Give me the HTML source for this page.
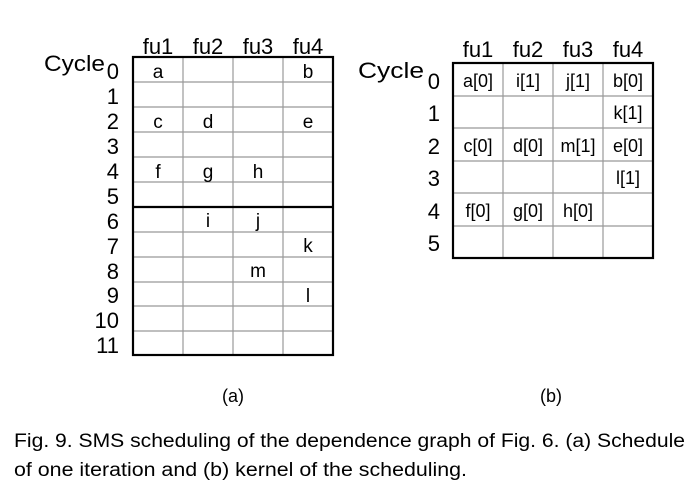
<!DOCTYPE html>
<html><head><meta charset="utf-8"><style>
html,body{margin:0;padding:0;background:#fff;}
svg{display:block;font-family:"Liberation Sans",Arial,sans-serif;}
</style></head><body>
<svg width="700" height="499" viewBox="0 0 700 499" xmlns="http://www.w3.org/2000/svg">
<g stroke="#999" stroke-width="1.2">
<line x1="183" y1="57" x2="183" y2="355"/><line x1="233" y1="57" x2="233" y2="355"/><line x1="283" y1="57" x2="283" y2="355"/>
<line x1="133" y1="82" x2="333" y2="82"/><line x1="133" y1="107" x2="333" y2="107"/><line x1="133" y1="132" x2="333" y2="132"/>
<line x1="133" y1="157" x2="333" y2="157"/><line x1="133" y1="182" x2="333" y2="182"/>
<line x1="133" y1="232" x2="333" y2="232"/><line x1="133" y1="257" x2="333" y2="257"/><line x1="133" y1="282" x2="333" y2="282"/>
<line x1="133" y1="306" x2="333" y2="306"/><line x1="133" y1="331" x2="333" y2="331"/>
<line x1="503" y1="63" x2="503" y2="258"/><line x1="553" y1="63" x2="553" y2="258"/><line x1="603" y1="63" x2="603" y2="258"/>
<line x1="453" y1="96" x2="653" y2="96"/><line x1="453" y1="128" x2="653" y2="128"/><line x1="453" y1="161" x2="653" y2="161"/>
<line x1="453" y1="193" x2="653" y2="193"/><line x1="453" y1="226" x2="653" y2="226"/>
</g>
<g stroke="#000" stroke-width="2.2" fill="none">
<rect x="133" y="57" width="200" height="298"/>
<line x1="133" y1="207" x2="333" y2="207"/>
<rect x="453" y="63" width="200" height="195"/>
</g>
<g font-size="22" text-anchor="middle">
<text x="158" y="54">fu1</text><text x="208" y="54">fu2</text><text x="258" y="54">fu3</text><text x="308" y="54">fu4</text>
<text x="478" y="57">fu1</text><text x="528" y="57">fu2</text><text x="578" y="57">fu3</text><text x="628" y="57">fu4</text>
</g>
<g font-size="22">
<text x="44" y="71" textLength="61" lengthAdjust="spacingAndGlyphs">Cycle</text>
<text x="358" y="78" textLength="66" lengthAdjust="spacingAndGlyphs">Cycle</text>
</g>
<g font-size="22" text-anchor="end">
<text x="119" y="79">0</text><text x="119" y="104">1</text><text x="119" y="129">2</text><text x="119" y="154">3</text>
<text x="119" y="179">4</text><text x="119" y="204">5</text><text x="119" y="229">6</text><text x="119" y="254">7</text>
<text x="119" y="279">8</text><text x="119" y="303">9</text><text x="119" y="328">10</text><text x="119" y="353">11</text>
<text x="440" y="89">0</text><text x="440" y="121">1</text><text x="440" y="154">2</text><text x="440" y="186">3</text>
<text x="440" y="219">4</text><text x="440" y="251">5</text>
</g>
<g font-size="19" text-anchor="middle">
<text x="158" y="78">a</text><text x="308" y="78">b</text>
<text x="158" y="128">c</text><text x="208" y="128">d</text><text x="308" y="128">e</text>
<text x="158" y="178">f</text><text x="208" y="178">g</text><text x="258" y="178">h</text>
<text x="208" y="227">i</text><text x="258" y="227">j</text>
<text x="308" y="252">k</text><text x="258" y="277">m</text><text x="308" y="302">l</text>
</g>
<g font-size="18" text-anchor="middle">
<text x="478" y="87">a[0]</text><text x="528" y="87">i[1]</text><text x="578" y="87">j[1]</text><text x="628" y="87">b[0]</text>
<text x="628" y="119">k[1]</text>
<text x="478" y="152">c[0]</text><text x="528" y="152">d[0]</text><text x="578" y="152">m[1]</text><text x="628" y="152">e[0]</text>
<text x="628" y="184">l[1]</text>
<text x="478" y="217">f[0]</text><text x="528" y="217">g[0]</text><text x="578" y="217">h[0]</text>
</g>
<g font-size="18" text-anchor="middle">
<text x="233" y="402">(a)</text><text x="551" y="402">(b)</text>
</g>
<g font-size="19">
<text x="14" y="447" textLength="671" lengthAdjust="spacingAndGlyphs">Fig. 9. SMS scheduling of the dependence graph of Fig. 6. (a) Schedule</text>
<text x="14" y="476" textLength="453" lengthAdjust="spacingAndGlyphs">of one iteration and (b) kernel of the scheduling.</text>
</g>
</svg>
</body></html>
